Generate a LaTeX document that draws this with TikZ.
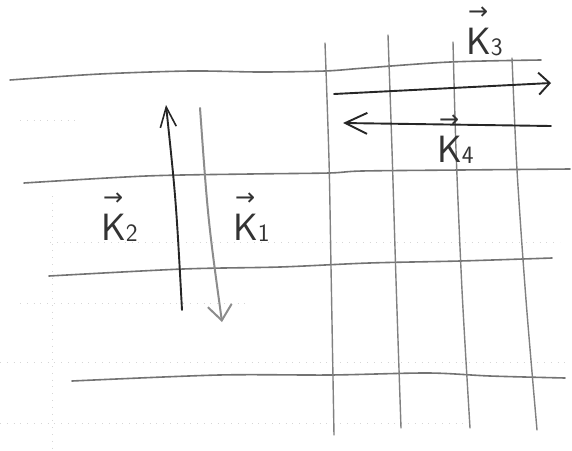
\documentclass[tikz,border=0pt]{standalone}
\usepackage{fontspec}
\newfontfamily\arrowfont{DejaVu Sans}
\usetikzlibrary{arrows.meta}
\newcommand\veck[1]{\makebox[0pt][l]{\hspace{0.05em}\raisebox{0.9em}{\fontsize{24}{24}\arrowfont →}}K\raisebox{-0.05em}{\fontsize{25}{25}\selectfont #1}}
\tikzset{
  pencil/.style={draw=black!55, line width=1.6pt, line cap=round, line join=round},
  grid line/.style={draw=black!50, line width=1.4pt, line cap=round},
  dark arrow/.style={draw=black!85, line width=1.9pt, line cap=round},
  light arrow/.style={draw=black!45, line width=2pt, line cap=round},
  paper dots/.style={draw=black!16, line width=0.6pt, dash pattern=on 0.8pt off 6pt},
  klabel/.style={inner sep=0pt, anchor=base west, text=black!80, font=\sffamily\fontsize{38}{38}\selectfont}
}
\begin{document}
\begin{tikzpicture}[x=1pt,y=-1pt]
\useasboundingbox (0,0) rectangle (572,450);
\fill[white] (0,0) rectangle (572,450);
% faint ruled dots of the paper
\draw[paper dots] (20,120) -- (80,120);
\draw[paper dots] (50,242) -- (560,242);
\draw[paper dots] (20,303) -- (250,303);
\draw[paper dots] (0,362) -- (570,362);
\draw[paper dots] (0,423) -- (470,423);
\draw[paper dots] (52,196) -- (52,450);
% horizontal pencil lines
\draw[pencil] plot[smooth] coordinates {(10,80) (100,74) (190,71) (260,72) (325,71) (365,68) (450,62) (541,60)};
\draw[pencil] plot[smooth] coordinates {(24,183) (146,176) (250,174) (329,173) (362,171) (460,170) (570,169)};
\draw[pencil] plot[smooth] coordinates {(49,276) (183,269) (280,267) (369,263) (460,261) (552,258)};
\draw[pencil] plot[smooth] coordinates {(72,381) (219,375) (330,375) (428,373) (490,376) (565,378)};
% vertical grid lines
\draw[grid line] plot[smooth] coordinates {(325,43) (329,160) (331,267) (334,435)};
\draw[grid line] plot[smooth] coordinates {(388,35) (392,150) (396,280) (401,428)};
\draw[grid line] plot[smooth] coordinates {(453,42) (456,150) (462,290) (470,428)};
\draw[grid line] plot[smooth] coordinates {(512,58) (517,170) (526,300) (537,430)};
% named end points of the wave vectors
\coordinate (k3s) at (334,94);
\coordinate (k3e) at (551,83);
\coordinate (k4s) at (551,126);
\coordinate (k4e) at (343,123);
\coordinate (k2s) at (182,310);
\coordinate (k2e) at (166,105);
\coordinate (k1s) at (200,108);
\coordinate (k1e) at (222,322);
% wave vector arrows
\draw[dark arrow, -{Straight Barb[length=11pt,width=22pt,line width=1.9pt]}] (k3s) -- (k3e);
\draw[dark arrow, -{Straight Barb[length=22pt,width=21pt,line width=1.9pt]}] (k4s) -- (k4e);
\draw[dark arrow, -{Straight Barb[length=20pt,width=16pt,line width=1.6pt]}] (k2s) .. controls (176,200) .. (k2e);
\draw[light arrow, -{Straight Barb[length=15pt,width=24pt,line width=2pt]}] (k1s) .. controls (208,220) .. (k1e);
% labels
\node[klabel] (l3) at (466,54) {\veck{3}};
\node[klabel] (l4) at (437,162) {\veck{4}};
\node[klabel] (l2) at (101,240) {\veck{2}};
\node[klabel] (l1) at (233,240) {\veck{1}};
\end{tikzpicture}
\end{document}
